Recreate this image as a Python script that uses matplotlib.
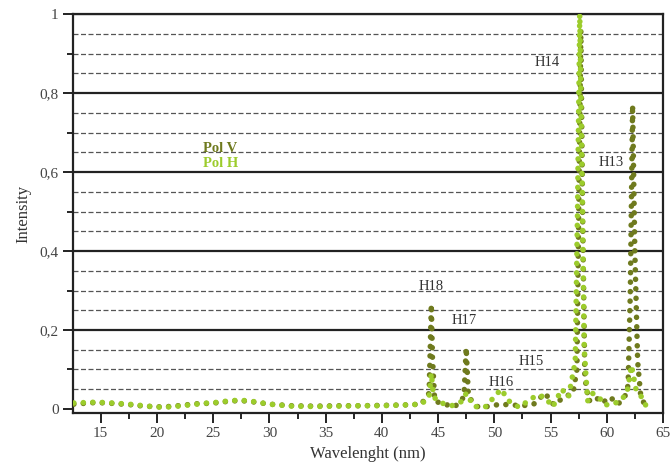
import numpy as np
import matplotlib
matplotlib.use('Agg')
import matplotlib.pyplot as plt
from matplotlib.ticker import MultipleLocator, FuncFormatter

# Pol V (olive) spectrum
wl_v = [12.6, 13.5, 14.5, 15.5, 16.5, 17.5, 18.5, 19.5, 20.5, 21.5, 22.5, 23.5, 24.5,
        25.5, 26.5, 27.5, 28.5, 30, 32, 34, 36, 38, 40, 42, 43.5, 44.2, 44.4, 44.5,
        44.7, 45.5, 46.5, 47.3, 47.5, 47.7, 48.5, 49.5, 50.5, 51.5, 52.5, 53.5, 54.5,
        55.3, 56.2, 57.0, 57.35, 57.55, 57.7, 57.85, 58.05, 58.4, 59.0, 59.6, 60.3,
        61.0, 61.6, 61.9, 62.1, 62.3, 62.5, 62.75, 63.0, 63.3, 63.6]
int_v = [0.012, 0.014, 0.016, 0.015, 0.013, 0.011, 0.008, 0.006, 0.005, 0.007, 0.010,
         0.013, 0.014, 0.016, 0.020, 0.021, 0.018, 0.012, 0.008, 0.007, 0.008, 0.008,
         0.009, 0.010, 0.012, 0.040, 0.265, 0.130, 0.020, 0.012, 0.006, 0.030, 0.155,
         0.030, 0.006, 0.006, 0.012, 0.010, 0.008, 0.012, 0.040, 0.010, 0.030, 0.040,
         0.100, 0.600, 0.960, 0.500, 0.080, 0.020, 0.030, 0.015, 0.030, 0.012, 0.030,
         0.060, 0.300, 0.770, 0.400, 0.120, 0.040, 0.015, 0.005]

# Pol H (light green) spectrum
wl_h = [12.6, 13.5, 14.5, 15.5, 16.5, 17.5, 18.5, 19.5, 20.5, 21.5, 22.5, 23.5, 24.5,
        25.5, 26.5, 27.5, 28.5, 30, 32, 34, 36, 38, 40, 42, 43.5, 44.2, 44.4, 44.6,
        45.3, 46.2, 47.2, 47.5, 48.2, 49.2, 50.3, 50.6, 51.3, 52.2, 53.0, 53.8, 54.5,
        55.2, 56.0, 56.6, 57.2, 57.4, 57.6, 57.8, 58.0, 58.3, 58.7, 59.3, 59.8,
        60.5, 61.2, 61.8, 62.2, 62.6, 63.1, 63.6]
int_h = [0.015, 0.016, 0.017, 0.016, 0.014, 0.012, 0.009, 0.006, 0.004, 0.006, 0.009,
         0.012, 0.015, 0.017, 0.021, 0.022, 0.019, 0.012, 0.007, 0.006, 0.007, 0.008,
         0.008, 0.010, 0.012, 0.030, 0.090, 0.030, 0.015, 0.008, 0.020, 0.040, 0.006,
         0.005, 0.040, 0.050, 0.020, 0.004, 0.020, 0.035, 0.030, 0.005, 0.050, 0.030,
         0.120, 0.500, 1.000, 0.600, 0.150, 0.020, 0.040, 0.030, 0.010, 0.012, 0.020,
         0.040, 0.110, 0.050, 0.030, 0.002]

peak_labels = ['H14', 'H13', 'H18', 'H17', 'H15', 'H16']
label_x = [54.7, 60.4, 44.4, 47.3, 53.3, 50.6]
label_y = [0.878, 0.625, 0.31, 0.225, 0.119, 0.068]

c_v = '#6f7a1e'
c_h = '#9ccc2c'

plt.rcParams['font.family'] = ['Liberation Serif', 'DejaVu Serif']

fig = plt.figure(figsize=(6.71, 4.74), dpi=100)
ax = fig.add_axes([0.109, 0.129, 0.879, 0.841])

dots = dict(linestyle=(0, (0.01, 1.7)), dash_capstyle='round', linewidth=4.0)
ax.plot(wl_v, int_v, color=c_v, zorder=3, **dots)
ax.plot(wl_h, int_h, color=c_h, zorder=4, **dots)

for lab, lx, ly in zip(peak_labels, label_x, label_y):
    ax.text(lx, ly, lab, ha='center', va='center', fontsize=10.5, color='#333333', zorder=5)

ax.text(24.1, 0.66, 'Pol V', color=c_v, fontsize=10.5, fontweight='bold', va='center')
ax.text(24.1, 0.622, 'Pol H', color=c_h, fontsize=10.5, fontweight='bold', va='center')

ax.set_xlim(12.54, 65)
ax.set_ylim(-0.01, 1.0)
ax.xaxis.set_major_locator(MultipleLocator(5))
ax.xaxis.set_minor_locator(MultipleLocator(2.5))
ax.yaxis.set_major_locator(MultipleLocator(0.2))
ax.yaxis.set_minor_locator(MultipleLocator(0.1))
ax.yaxis.set_major_formatter(FuncFormatter(lambda v, p: ('%g' % round(v, 2)).replace('.', ',')))

# solid major and dashed 0.05 grid lines
for yv in np.arange(0.2, 1.01, 0.2):
    ax.axhline(yv, color='#222222', lw=1.6, zorder=1)
for yv in np.arange(0.05, 1.0, 0.05):
    if abs(yv / 0.2 - round(yv / 0.2)) > 0.01:
        ax.axhline(yv, color='#555555', lw=0.9, ls=(0, (4, 2)), zorder=1)

for s in ax.spines.values():
    s.set_linewidth(1.6)
    s.set_color('#222222')

ax.tick_params(which='major', direction='out', length=7, width=1.4, labelsize=11, colors='#222222')
ax.tick_params(which='minor', direction='out', length=4, width=1.2)
ax.tick_params(axis='both', labelcolor='#444444')

ax.set_xlabel('Wavelenght (nm)', fontsize=12, color='#333333', labelpad=4)
ax.set_ylabel('Intensity', fontsize=12, color='#333333', labelpad=6)

fig.savefig('out.png', dpi=100)
